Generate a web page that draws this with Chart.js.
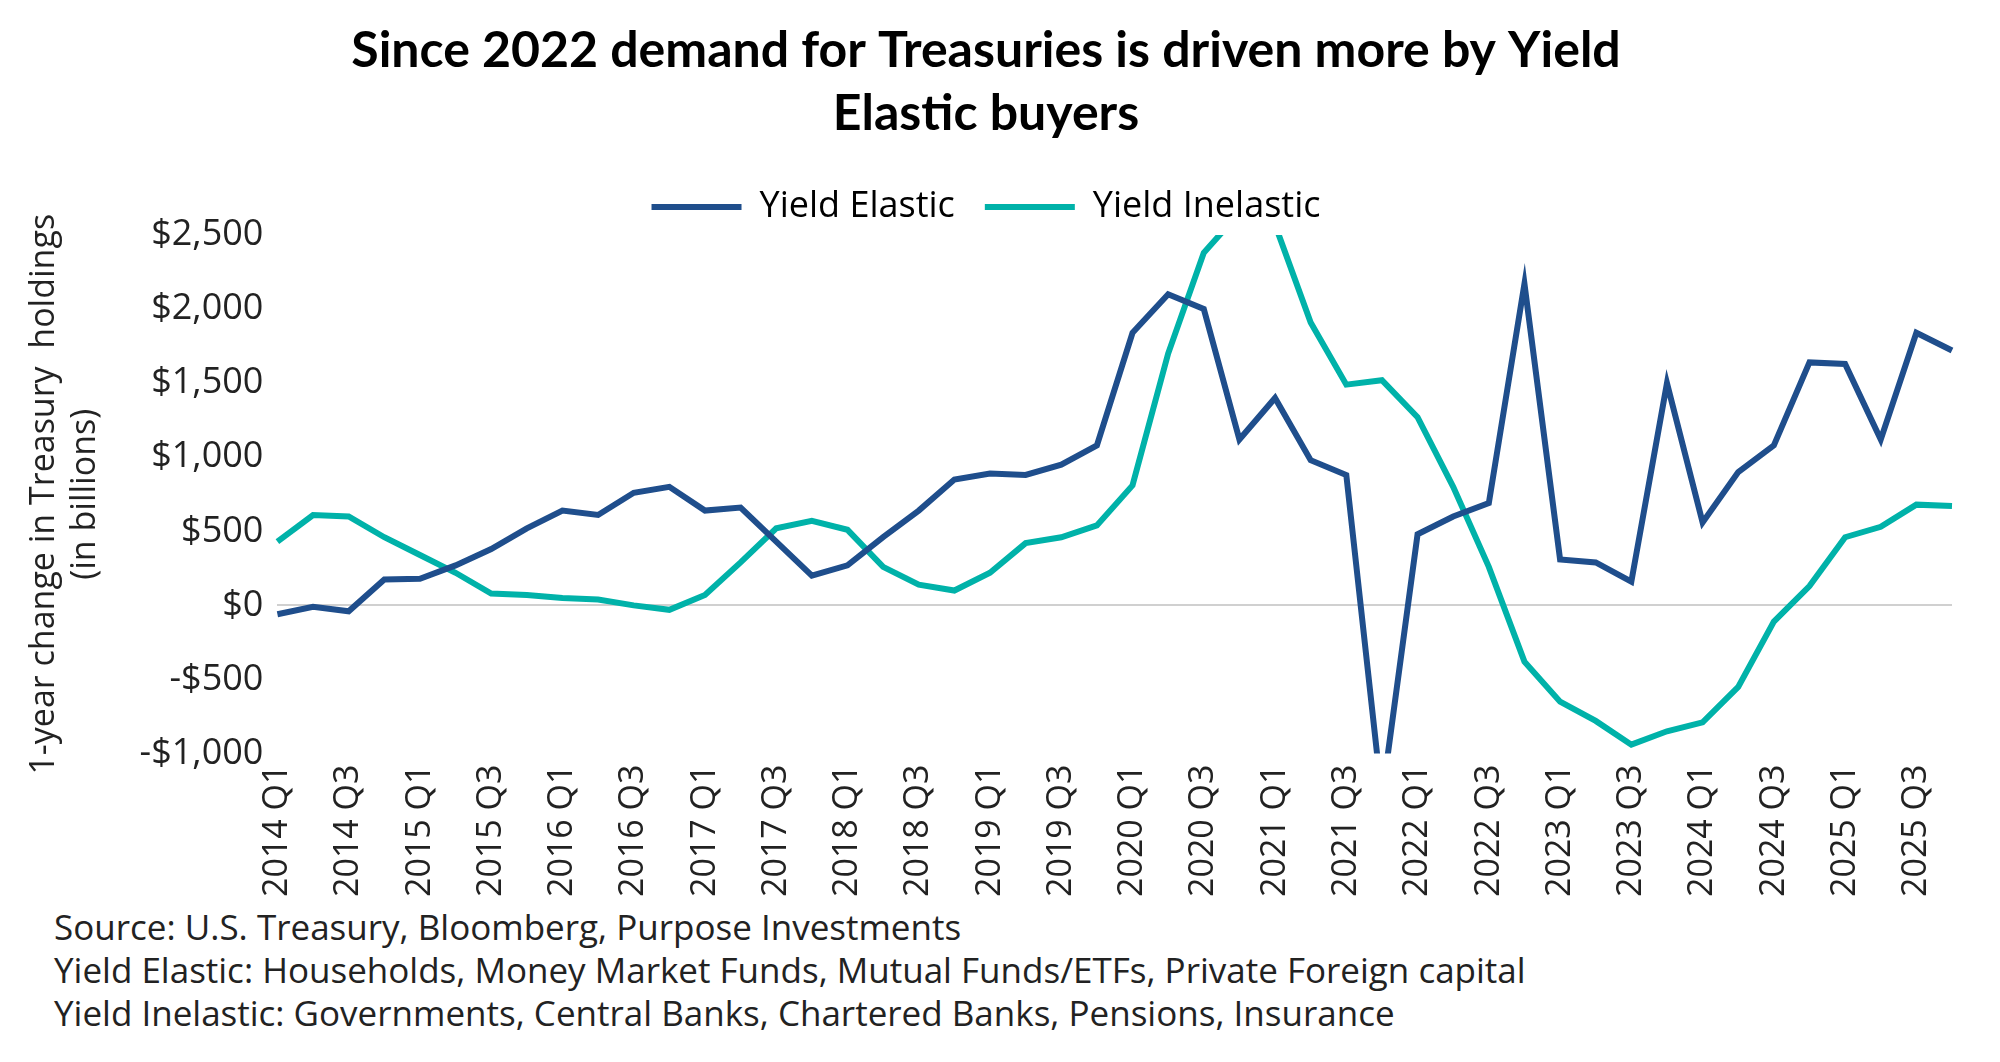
<!DOCTYPE html>
<html>
<head>
<meta charset="utf-8">
<script src="https://cdn.jsdelivr.net/npm/chart.js@4"></script>
<style>
  body { margin: 0; background: #fff; font-family: "Open Sans", sans-serif; }
  #wrap { position: relative; width: 2000px; height: 900px; }
  #notes { position: absolute; left: 54px; top: 905px; font-size: 35px; line-height: 43px; color: #222; }
</style>
</head>
<body>
<div id="wrap"><canvas id="c" width="2000" height="900"></canvas></div>
<div id="notes">
  Source: U.S. Treasury, Bloomberg, Purpose Investments<br>
  Yield Elastic: Households, Money Market Funds, Mutual Funds/ETFs, Private Foreign capital<br>
  Yield Inelastic: Governments, Central Banks, Chartered Banks, Pensions, Insurance
</div>
<script>
// quarters 2014 Q1 .. 2025 Q4
const years = [2014, 2015, 2016, 2017, 2018, 2019, 2020, 2021, 2022, 2023, 2024, 2025];
const quarters = ['Q1', 'Q2', 'Q3', 'Q4'];
const labels = [];
years.forEach(y => quarters.forEach(q => labels.push(y + ' ' + q)));

const yieldElastic = [
  -60, -10, -40, 175, 180, 270, 380, 520,
  640, 610, 760, 800, 640, 660, 430, 200,
  270, 460, 640, 850, 890, 880, 950, 1080,
  1840, 2100, 2000, 1120, 1400, 980, 880, -1300,
  480, 600, 690, 2170, 310, 290, 160, 1500,
  560, 900, 1080, 1640, 1630, 1120, 1840, 1720
];
const yieldInelastic = [
  430, 610, 600, 460, 340, 220, 80, 70,
  50, 40, 0, -30, 70, 290, 520, 570,
  510, 260, 140, 100, 220, 420, 460, 540,
  810, 1700, 2380, 2650, 2570, 1910, 1490, 1520,
  1270, 800, 260, -380, -650, -780, -940, -850,
  -790, -550, -110, 130, 460, 530, 680, 670
];
const yTicks = [-1000, -500, 0, 500, 1000, 1500, 2000, 2500];

const fmt = v => (v < 0 ? '-$' : '$') + Math.abs(v).toLocaleString('en-US');

new Chart(document.getElementById('c'), {
  type: 'line',
  data: {
    labels: labels,
    datasets: [
      { label: 'Yield Elastic', data: yieldElastic, borderColor: '#1f4e8c', backgroundColor: '#1f4e8c',
        borderWidth: 6, pointRadius: 0, tension: 0 },
      { label: 'Yield Inelastic', data: yieldInelastic, borderColor: '#00b2a9', backgroundColor: '#00b2a9',
        borderWidth: 6, pointRadius: 0, tension: 0 }
    ]
  },
  options: {
    responsive: false,
    animation: false,
    devicePixelRatio: 1,
    layout: { padding: { left: 20, right: 48, top: 20 } },
    plugins: {
      title: {
        display: true,
        text: ['Since 2022 demand for Treasuries is driven more by Yield', 'Elastic buyers'],
        color: '#000',
        font: { family: 'Lato', size: 50, weight: 'bold', lineHeight: 1.25 },
        padding: { bottom: 14 }
      },
      legend: {
        labels: {
          color: '#222',
          font: { family: 'Open Sans', size: 36 },
          boxWidth: 90, boxHeight: 6, padding: 30,
          generateLabels: chart => chart.data.datasets.map((d, i) => ({
            text: d.label, fillStyle: d.borderColor, strokeStyle: d.borderColor,
            lineWidth: 0, datasetIndex: i
          }))
        }
      }
    },
    scales: {
      x: {
        grid: { display: false },
        border: { display: false },
        ticks: {
          color: '#222', font: { family: 'Open Sans', size: 34 },
          maxRotation: 90, minRotation: 90, autoSkip: false,
          callback: (v, i) => i % 2 === 0 ? labels[i] : ''
        }
      },
      y: {
        min: -1000, max: 2500,
        afterBuildTicks: axis => { axis.ticks = yTicks.map(v => ({ value: v })); },
        grid: { color: ctx => ctx.tick && ctx.tick.value === 0 ? '#d0d0d0' : 'transparent', lineWidth: 2, drawTicks: false },
        border: { display: false },
        ticks: { color: '#222', font: { family: 'Open Sans', size: 36 }, padding: 14, callback: v => fmt(v) },
        title: {
          display: true,
          text: ['1-year change in Treasury  holdings', '(in billions)'],
          color: '#222', font: { family: 'Open Sans', size: 34 }, padding: { bottom: 20 }
        }
      }
    }
  }
});
</script>
</body>
</html>
